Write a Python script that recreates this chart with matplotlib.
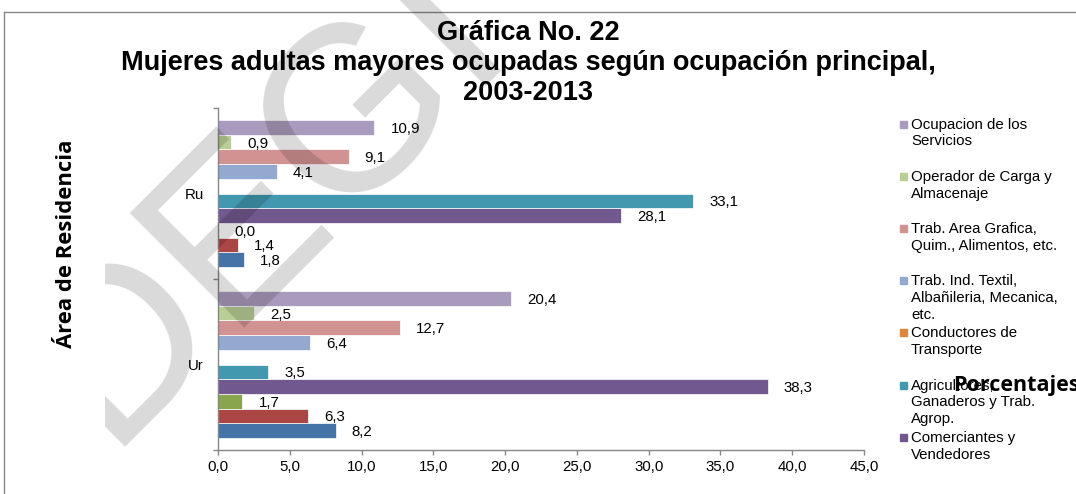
import numpy as np
import matplotlib
matplotlib.use("Agg")
import matplotlib.pyplot as plt
from matplotlib.patches import Rectangle
from matplotlib.lines import Line2D
from matplotlib.transforms import Bbox, TransformedBbox

# categories (bottom to top) and series (bottom bar of each group first)
areas = ["Ur", "Ru"]
series = [
    "",  # first three names are cut off in the original legend
    "",
    "",
    "Comerciantes y\nVendedores",
    "Agricultores,\nGanaderos y Trab.\nAgrop.",
    "Conductores de\nTransporte",
    "Trab. Ind. Textil,\nAlbañileria, Mecanica,\netc.",
    "Trab. Area Grafica,\nQuim., Alimentos, etc.",
    "Operador de Carga y\nAlmacenaje",
    "Ocupacion de los\nServicios",
]
colors = ["#4572A7", "#AA4643", "#89A54E", "#71588F", "#4198AF",
          "#DB843D", "#93A9CF", "#D19392", "#B9CD96", "#A99BBD"]
urbano = [8.2, 6.3, 1.7, 38.3, 3.5, np.nan, 6.4, 12.7, 2.5, 20.4]
rural = [1.8, 1.4, 0.0, 28.1, 33.1, np.nan, 4.1, 9.1, 0.9, 10.9]
xticks = [0, 5, 10, 15, 20, 25, 30, 35, 40, 45]

W, H = 1076, 494
def fx(px):
    return px / W
def fy(py):
    return 1 - py / H

AR = "Liberation Sans"
fig = plt.figure(figsize=(W / 100, H / 100), dpi=100)
ax = fig.add_axes([fx(218), fy(450), 646 / W, 342 / H])

values = np.array([urbano, rural])  # shape (areas, series)
n = len(series)
slot = 0.86 / n
for i in range(n):
    ypos = np.arange(len(areas)) - 0.43 + slot * (i + 0.5)
    ax.barh(ypos, values[:, i], height=slot, color=colors[i],
            edgecolor="white", linewidth=0.5, zorder=2)
    for y, v in zip(ypos, values[:, i]):
        if np.isnan(v):
            continue
        ax.annotate(f"{v:.1f}".replace(".", ","), xy=(v, y), xytext=(11.5, 0),
                    textcoords="offset points", ha="left", va="center_baseline",
                    fontsize=10.8, family=AR)

ax.set_xlim(0, 45)
ax.set_ylim(-0.5, 1.5)
ax.set_xticks(xticks)
ax.set_xticklabels([f"{t:.1f}".replace(".", ",") for t in xticks],
                   fontsize=10.8, family=AR)
ax.set_yticks([-0.5, 0.5, 1.5])
ax.set_yticklabels([])
ax.set_yticks(range(len(areas)), minor=True)
ax.set_yticklabels(areas, minor=True, fontsize=10.8, family=AR)
ax.tick_params(axis="both", which="major", direction="out", length=3.6,
               color="#868686", width=1, pad=3.5)
ax.tick_params(axis="y", which="minor", length=0, pad=10)
for s in ["top", "right"]:
    ax.spines[s].set_visible(False)
for s in ["left", "bottom"]:
    ax.spines[s].set_color("#868686")
    ax.spines[s].set_linewidth(1)

# titles
title_lines = ["Gráfica No. 22",
               "Mujeres adultas mayores ocupadas según ocupación principal,",
               "2003-2013"]
for k, line in enumerate(title_lines):
    fig.text(fx(528), fy(40 + 30 * k), line, ha="center", va="baseline",
             fontsize=19.5, weight="bold", family=AR)
fig.text(fx(66), fy(244), "Área de Residencia", rotation=90, ha="center",
         va="center", fontsize=15.8, weight="bold", family="Open Sans")

# legend, drawn by hand (entries overflow like in the original)
for k, i in enumerate(range(n - 1, 2, -1)):
    base = 129 + 52.2 * k
    fig.add_artist(Rectangle((fx(900), fy(base - 1.5)), 7 / W, 7 / H,
                             color=colors[i], transform=fig.transFigure))
    fig.text(fx(911), fy(base - 11.5), series[i], ha="left", va="top",
             fontsize=10.8, family=AR, linespacing=1.27)

fig.text(fx(953), fy(391), "Porcentajes", ha="left", va="baseline",
         fontsize=15.5, weight="bold", family="Open Sans", zorder=5)

# outer frame
fig.add_artist(Line2D([fx(4), fx(4)], [0, fy(12)], color="#868686", lw=1))
fig.add_artist(Line2D([fx(4), 1], [fy(12), fy(12)], color="#868686", lw=1))

# watermark
wm = fig.text(fx(106), fy(447), "DEGI", rotation=45, rotation_mode="anchor",
              ha="left", va="baseline", fontsize=169, family=AR,
              color="black", alpha=0.15, zorder=4)
wm.set_clip_box(TransformedBbox(Bbox([[fx(105), 0], [1, 1]]), fig.transFigure))
wm.set_clip_on(True)

fig.savefig("out.png", dpi=100)
